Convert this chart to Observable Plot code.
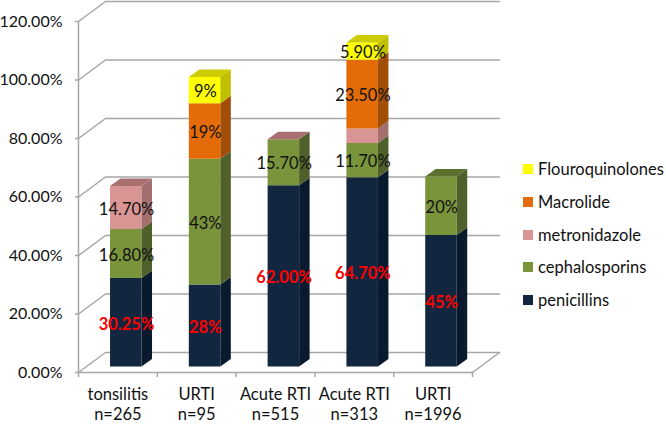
<!DOCTYPE html>
<html><head><meta charset="utf-8">
<script src="https://cdn.jsdelivr.net/npm/d3@7"></script>
<script src="https://cdn.jsdelivr.net/npm/@observablehq/plot@0.6"></script>
<style>
html,body{margin:0;padding:0;background:#fff}
#wrap{position:relative;width:666px;height:424px;overflow:hidden;font-family:Lato,sans-serif;color:#111}
.lg{position:absolute;left:523px;display:flex;align-items:center;font-size:16.5px;white-space:nowrap;height:20px}
.lg i{display:block;width:10px;height:10px;margin-right:5px}
</style></head><body><div id="wrap"></div>
<script>
const categories = ["tonsilitis\nn=265","URTI\nn=95","Acute RTI\nn=515","Acute RTI\nn=313","URTI\nn=1996"];
const seriesNames = ["penicillins","cephalosporins","metronidazole","Macrolide","Flouroquinolones"];
const penicillins = [30.25,28,62,64.7,45];
const cephalosporins = [16.8,43,15.7,11.7,20];
const metronidazole = [14.7,0,0,5,0];
const macrolide = [0,19,0,23.5,0];
const flouroquinolones = [0,9,0,5.9,0];
const valueLabels = [
  ["30.25%","28%","62.00%","64.70%","45%"],
  ["16.80%","43%","15.70%","11.70%","20%"],
  ["14.70%","","","",""],
  ["","19%","","23.50%",""],
  ["","9%","","5.90%",""]
];
const frontColors = ["#12263f","#7a943c","#d99594","#e36c09","#ffff00"];
const sideColors  = ["#0a1a2e","#50602a","#a46f6f","#a34e06","#c0c000"];
const topColors   = ["#0e2036","#5d702e","#a87070","#b85a08","#cccc00"];
const yTicks = [0,20,40,60,80,100,120];
const xTicks = [0,1,2,3,4,5];
const values = [penicillins,cephalosporins,metronidazole,macrolide,flouroquinolones];

// oblique projection, expressed in data units
const wallX = 0.3426, wallY = 6.84;       // depth of the floor
const barL = 0.4, barW = 0.4;             // bar placement inside a category
const barDX = 0.133, barDY = 2.56;        // depth of a bar
const base = 2.05;                        // bars sit forward of the front edge

const faces = [], labels = [];
categories.forEach((c,i)=>{
  let cum = 0, lastKept = -1;
  values.forEach((v,s)=>{ if (v[i] > 0) lastKept = s; });
  if (i === 2) lastKept = 2; // the zero-height metronidazole segment caps this bar
  values.forEach((v,s)=>{
    const val = v[i];
    const l = i + barL, r = l + barW, y0 = base + cum, y1 = y0 + val;
    const poly = (k,col,pts)=>pts.forEach(p=>faces.push({id:`${i}-${s}-${k}`,x:p[0],y:p[1],col}));
    if (val > 0) {
      poly("f",frontColors[s],[[l,y0],[r,y0],[r,y1],[l,y1]]);
      poly("s",sideColors[s],[[r,y0],[r+barDX,y0+barDY],[r+barDX,y1+barDY],[r,y1]]);
    }
    if (s === lastKept)
      poly("t",topColors[s],[[l,y1],[r,y1],[r+barDX,y1+barDY],[l+barDX,y1+barDY]]);
    if (valueLabels[s][i]) labels.push({x:l+barW/2+0.01,y:y0+val/2,t:valueLabels[s][i],first:s===0});
    cum += val;
  });
});

const gridLines = [];
yTicks.forEach(t=>{
  gridLines.push({id:"d"+t,x:0,y:t},{id:"d"+t,x:wallX,y:t+wallY},{id:"d"+t,x:5+wallX,y:t+wallY});
});
gridLines.push({id:"floor",x:5,y:0},{id:"floor",x:5+wallX,y:wallY});
gridLines.push({id:"front",x:0,y:0},{id:"front",x:5,y:0});
gridLines.push({id:"left",x:0,y:0},{id:"left",x:0,y:120});

const chart = Plot.plot({
  width:666,height:424,
  marginLeft:78,marginRight:194,marginTop:21,marginBottom:52,
  style:{fontFamily:"Lato,sans-serif",fontSize:"16px",color:"#111",background:"#fff"},
  x:{domain:[0,5],label:null},
  y:{domain:[0,120],label:null},
  marks:[
    Plot.line(gridLines,{x:"x",y:"y",z:"id",stroke:"#a6a6a6",strokeWidth:1.5}),
    Plot.axisY({ticks:yTicks,tickFormat:d=>d.toFixed(2)+"%",tickSize:3,tickPadding:13,stroke:"#a6a6a6",strokeWidth:1.5,fontSize:16,fill:"#111",label:null}),
    Plot.axisX({ticks:xTicks,tickFormat:()=>"",tickSize:5,stroke:"#a6a6a6",strokeWidth:1.5,label:null}),
    Plot.axisX({ticks:xTicks.slice(0,5).map(d=>d+0.5),tickFormat:d=>categories[Math.floor(d)],tickSize:0,tickPadding:13,lineHeight:1.22,fontSize:16.5,fill:"#111",label:null}),
    Plot.line(faces,{x:"x",y:"y",z:"id",fill:"col",stroke:"none"}),
    Plot.text(labels.filter(d=>!d.first),{x:"x",y:"y",text:"t",dy:2,fontSize:16.5,fill:"#111"}),
    Plot.text(labels.filter(d=>d.first),{x:"x",y:"y",text:"t",dy:2,fontSize:16.5,fill:"#ff0000",fontWeight:"bold"})
  ]
});
const wrap = document.getElementById("wrap");
wrap.appendChild(chart);
const legendY = [300,267,235,202,169];
seriesNames.forEach((n,s)=>{
  const e = document.createElement("div");
  e.className="lg"; e.style.top=(legendY[s]-10)+"px";
  const sw = document.createElement("i"); sw.style.background=frontColors[s];
  e.appendChild(sw); e.appendChild(document.createTextNode(n));
  wrap.appendChild(e);
});
</script></body></html>
